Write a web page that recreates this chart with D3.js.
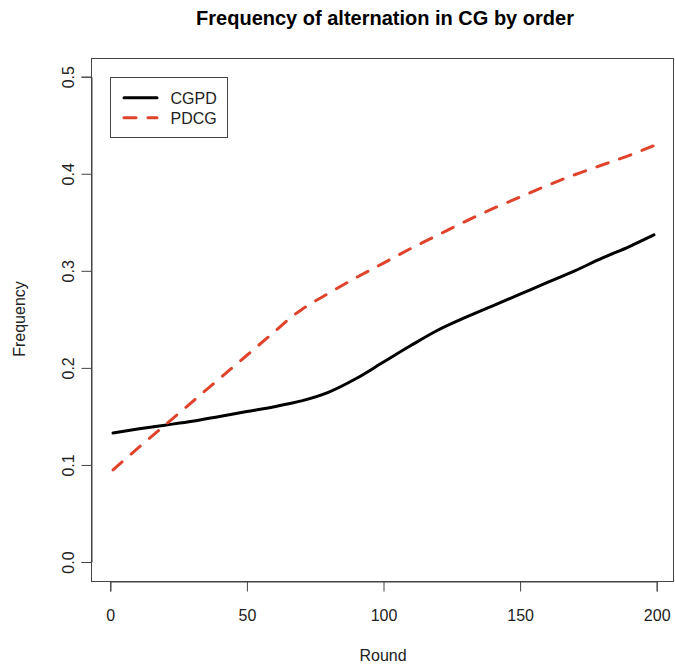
<!DOCTYPE html>
<html>
<head>
<meta charset="utf-8">
<script src="https://cdn.jsdelivr.net/npm/d3@7"></script>
<style>
  html, body { margin: 0; padding: 0; background: #fff; }
  svg { display: block; font-family: "Liberation Sans", Arial, Helvetica, sans-serif; }
</style>
</head>
<body>
<svg id="chart" width="675" height="667"></svg>
<script>
// ---- data ----
const rounds   = [1, 10, 20, 30, 40, 50, 60, 67, 70, 80, 90, 100, 110, 120, 130, 140, 150, 160, 170, 180, 190, 199];
const cgpd     = [0.133, 0.137, 0.141, 0.145, 0.150, 0.155, 0.160, 0.164, 0.166, 0.175, 0.189, 0.206, 0.223, 0.239, 0.252, 0.264, 0.276, 0.288, 0.300, 0.313, 0.325, 0.337];
const pdcg     = [0.095, 0.117, 0.141, 0.165, 0.189, 0.213, 0.237, 0.254, 0.260, 0.277, 0.293, 0.308, 0.323, 0.337, 0.351, 0.364, 0.376, 0.388, 0.399, 0.409, 0.419, 0.429];
const seriesNames = ["CGPD", "PDCG"];
const xTicks = [0, 50, 100, 150, 200];
const yTicks = [0.0, 0.1, 0.2, 0.3, 0.4, 0.5];
const titleText = "Frequency of alternation in CG by order";
const xLabel = "Round";
const yLabel = "Frequency";

// ---- layout ----
const svg = d3.select("#chart");
const box = { left: 91, right: 674, top: 58, bottom: 581 };
const x = d3.scaleLinear().domain([0, 200]).range([110.3, 656.7]);
const y = d3.scaleLinear().domain([0, 0.5]).range([562, 76.7]);
const red = "#e0432c";

// box
svg.append("rect")
  .attr("x", box.left + 0.5).attr("y", box.top + 0.5)
  .attr("width", box.right - box.left - 1).attr("height", box.bottom - box.top)
  .attr("fill", "none").attr("stroke", "#444").attr("stroke-width", 1);

// x axis
const xAxis = d3.axisBottom(x).tickValues(xTicks).tickSize(10).tickPadding(18).tickFormat(d3.format("d"));
const gx = svg.append("g").attr("transform", `translate(0,${box.bottom + 0.5})`).call(xAxis);
gx.select(".domain").attr("stroke", "#444");
gx.selectAll(".tick line").attr("stroke", "#444");
gx.selectAll("text").attr("font-size", 16).attr("fill", "#222")
  .attr("font-family", "Liberation Sans, Arial, Helvetica, sans-serif");

// y axis
const yAxis = d3.axisLeft(y).tickValues(yTicks).tickSize(10).tickFormat(d3.format(".1f"));
const gy = svg.append("g").attr("transform", `translate(${box.left + 0.5},0)`).call(yAxis);
gy.select(".domain").attr("stroke", "#444");
gy.selectAll(".tick line").attr("stroke", "#444");
gy.selectAll("text")
  .attr("font-size", 16).attr("fill", "#222")
  .attr("font-family", "Liberation Sans, Arial, Helvetica, sans-serif")
  .attr("text-anchor", "middle")
  .attr("dy", null)
  .attr("x", null)
  .attr("transform", "translate(-18,0) rotate(-90)");

// titles
svg.append("text").attr("x", 385).attr("y", 25).attr("text-anchor", "middle")
  .attr("font-size", 20).attr("font-weight", "bold").attr("fill", "#000").text(titleText);
svg.append("text").attr("x", 383).attr("y", 661).attr("text-anchor", "middle")
  .attr("font-size", 16).attr("fill", "#222").text(xLabel);
svg.append("text").attr("transform", "translate(25,319) rotate(-90)").attr("text-anchor", "middle")
  .attr("font-size", 16).attr("fill", "#222").text(yLabel);

// lines
const line = d3.line().x(d => x(d[0])).y(d => y(d[1])).curve(d3.curveMonotoneX);
svg.append("path").datum(rounds.map((r, i) => [r, cgpd[i]]))
  .attr("d", line).attr("fill", "none").attr("stroke", "#000")
  .attr("stroke-width", 3).attr("stroke-linecap", "round");
svg.append("path").datum(rounds.map((r, i) => [r, pdcg[i]]))
  .attr("d", line).attr("fill", "none").attr("stroke", red)
  .attr("stroke-width", 3).attr("stroke-linecap", "round")
  .attr("stroke-dasharray", "12,12");

// legend
const lg = svg.append("g");
lg.append("rect").attr("x", 110.5).attr("y", 77.5).attr("width", 117).attr("height", 60)
  .attr("fill", "#fff").attr("stroke", "#444").attr("stroke-width", 1);
const legendItems = [
  { name: seriesNames[0], color: "#000", dash: null, yy: 97.7 },
  { name: seriesNames[1], color: red, dash: "12,12", yy: 117.7 }
];
legendItems.forEach(it => {
  lg.append("line").attr("x1", 124).attr("x2", 157).attr("y1", it.yy).attr("y2", it.yy)
    .attr("stroke", it.color).attr("stroke-width", 3).attr("stroke-linecap", "round")
    .attr("stroke-dasharray", it.dash);
  lg.append("text").attr("x", 170.5).attr("y", it.yy + 6).attr("font-size", 16)
    .attr("fill", "#222").text(it.name);
});
</script>
</body>
</html>
